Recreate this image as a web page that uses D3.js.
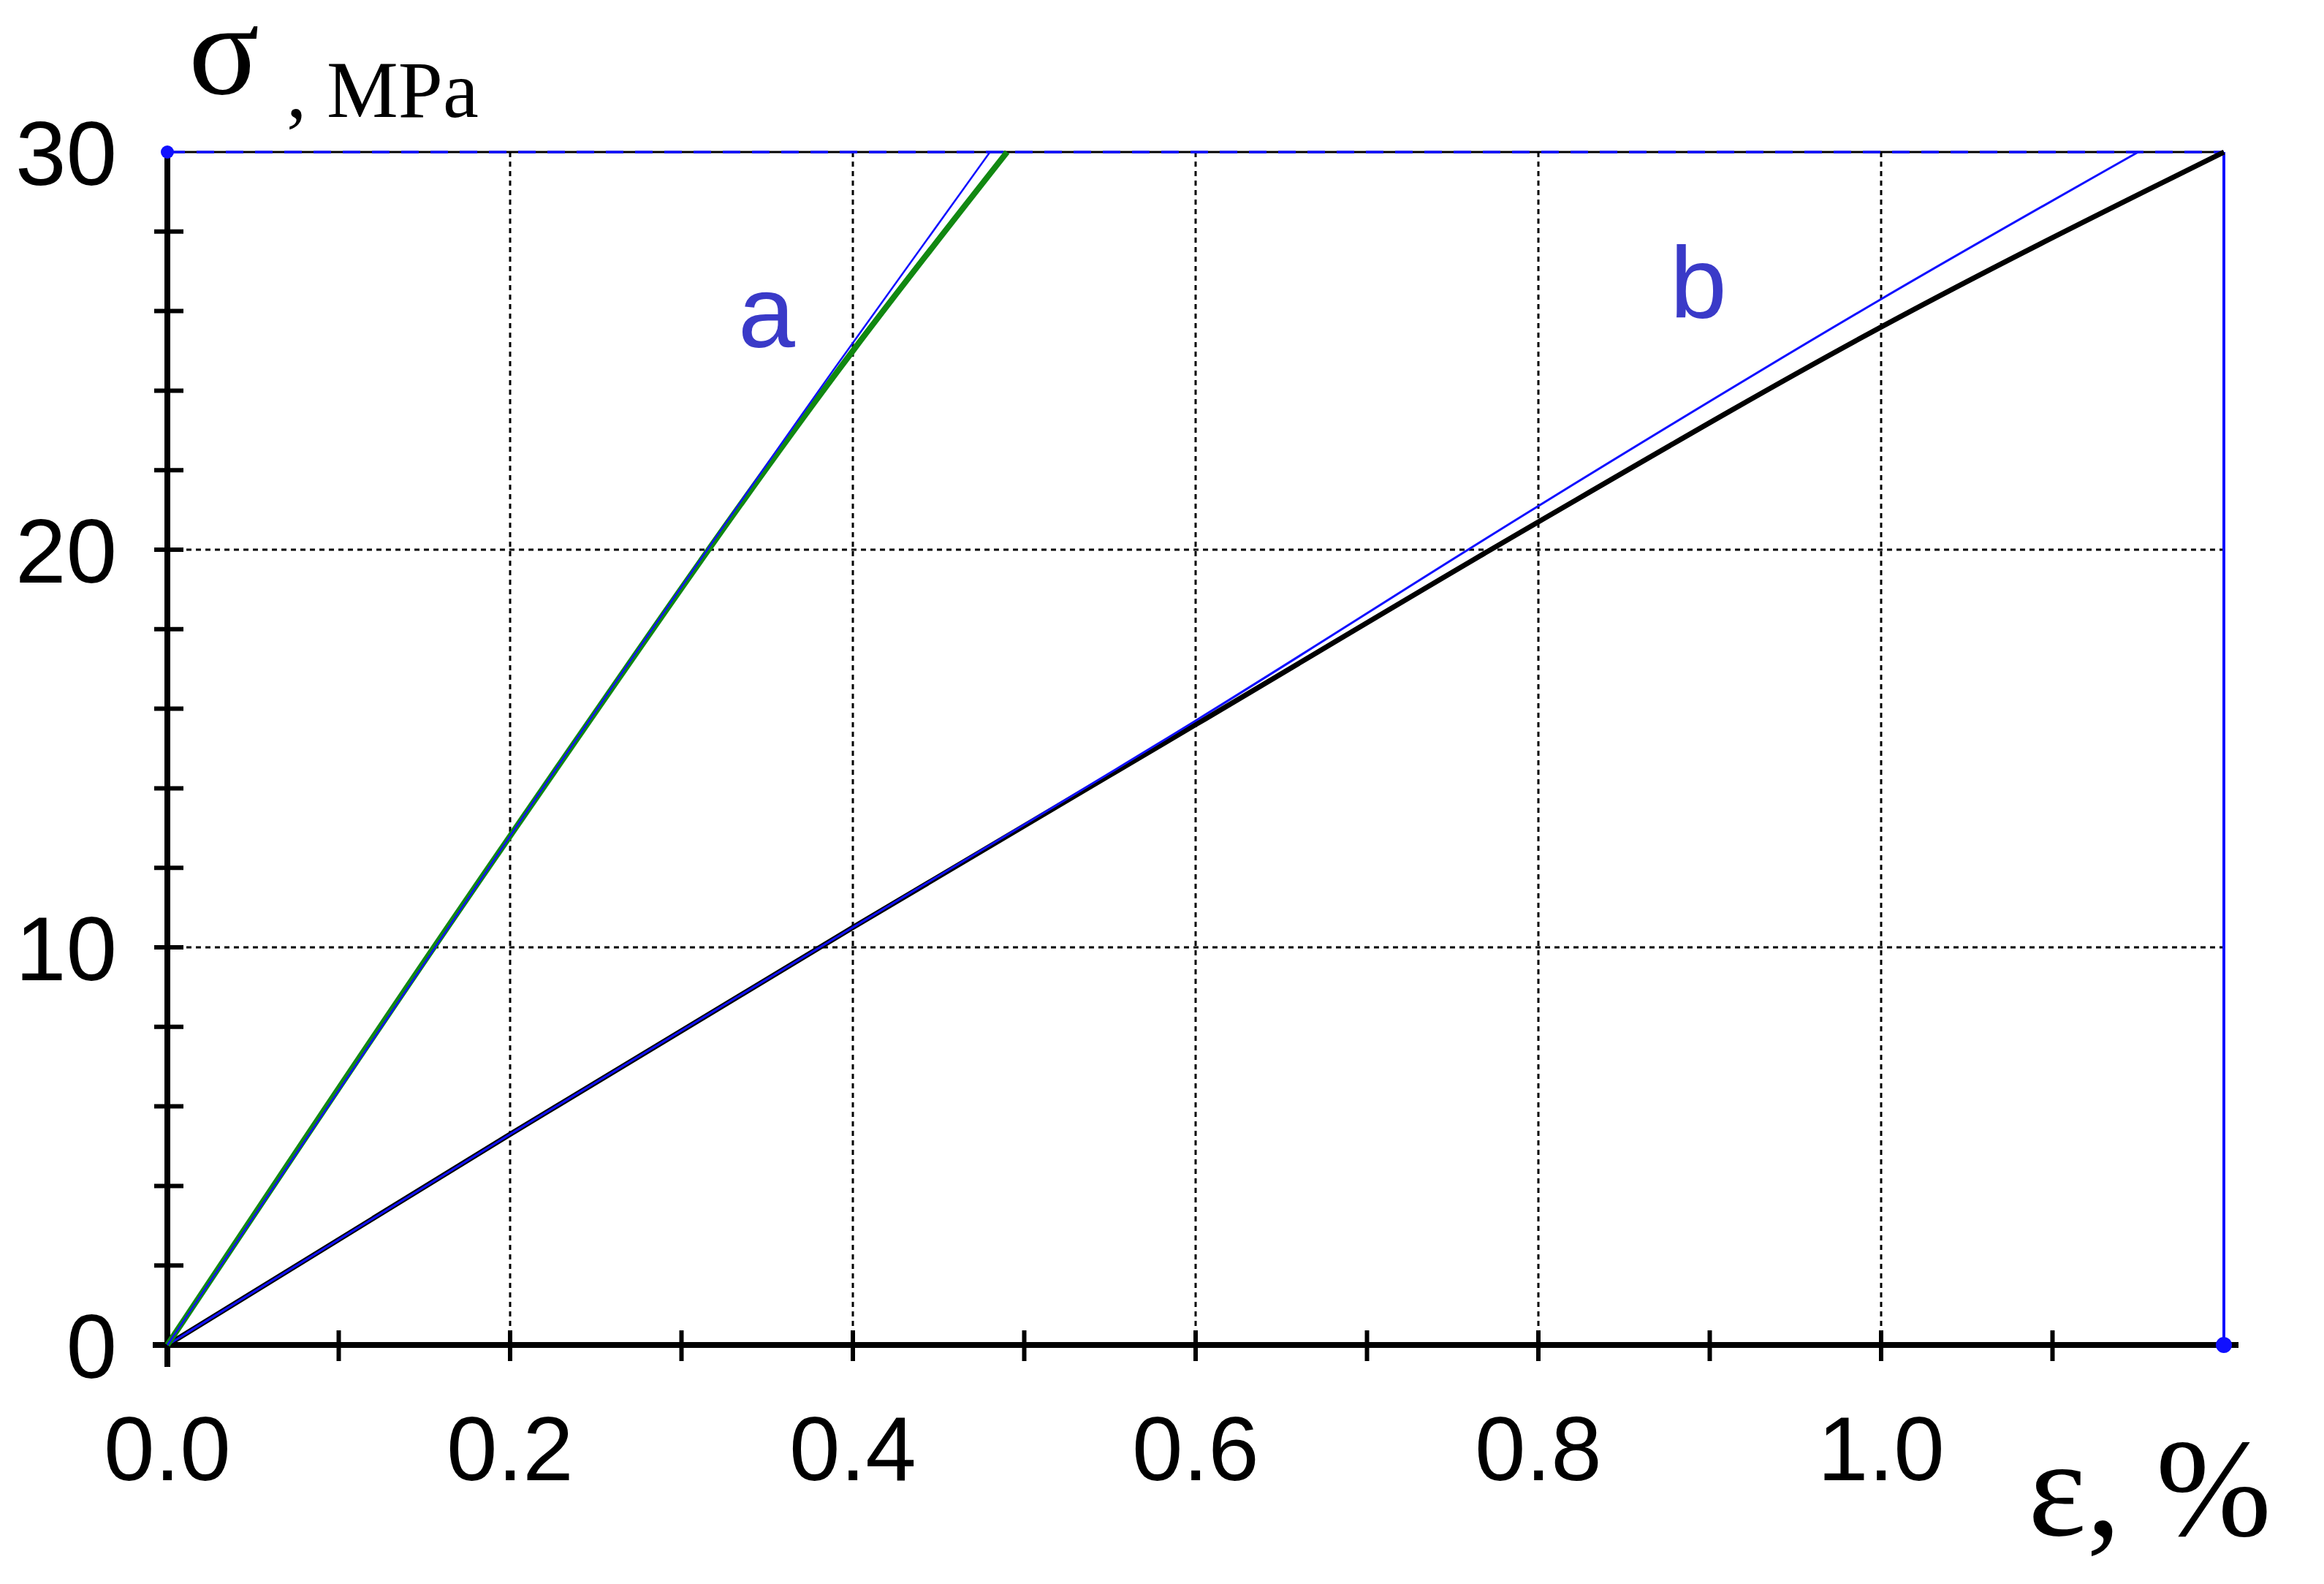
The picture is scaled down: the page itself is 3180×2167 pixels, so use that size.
<!DOCTYPE html>
<html><head><meta charset="utf-8">
<script src="https://cdn.jsdelivr.net/npm/d3@7"></script>
<style>body{margin:0;background:#fff}</style></head>
<body><svg id="c" width="3180" height="2167"></svg>
<script>
const xTicks=[0.0,0.2,0.4,0.6,0.8,1.0];
const yTicks=[0,10,20,30];
const aGreen=[[0,0],[0.2,12.8],[0.4,25.0],[0.49,30]];
const aBlue=[[0,0],[0.2,12.8],[0.39,24.6],[0.48,30]];
const bBlack=[[0,0],[0.2,5.3],[0.4,10.5],[0.6,15.6],[0.8,20.7],[1.0,25.6],[1.2,30]];
const bBlue=[[0,0],[0.2,5.3],[0.4,10.5],[0.6,15.7],[0.8,21.1],[1.0,26.3],[1.15,30]];
const svg=d3.select("#c");
const x=d3.scaleLinear().domain([0,1.2]).range([229,3043]);
const y=d3.scaleLinear().domain([0,30]).range([1840,208]);
svg.append("g").selectAll("line").data([0.2,0.4,0.6,0.8,1.0]).join("line")
 .attr("x1",d=>x(d)).attr("x2",d=>x(d)).attr("y1",y(0)).attr("y2",y(30))
 .attr("stroke","#000").attr("stroke-width",3).attr("stroke-dasharray","7,6");
svg.append("g").selectAll("line").data([10,20]).join("line")
 .attr("x1",x(0)).attr("x2",x(1.2)).attr("y1",d=>y(d)).attr("y2",d=>y(d))
 .attr("stroke","#000").attr("stroke-width",3).attr("stroke-dasharray","7,6");
svg.append("line").attr("x1",x(0)).attr("x2",x(1.2)).attr("y1",y(30)).attr("y2",y(30)).attr("stroke","#000").attr("stroke-width",3);
svg.append("line").attr("x1",x(0)).attr("x2",x(1.2)).attr("y1",y(30)).attr("y2",y(30)).attr("stroke","#1010ff").attr("stroke-width",3.5).attr("stroke-dasharray","24,16");
svg.append("line").attr("x1",x(1.2)).attr("x2",x(1.2)).attr("y1",y(30)).attr("y2",y(0)).attr("stroke","#1010ff").attr("stroke-width",4);
svg.append("line").attr("x1",x(0)-20).attr("x2",x(1.2)+20).attr("y1",y(0)).attr("y2",y(0)).attr("stroke","#000").attr("stroke-width",8);
svg.append("line").attr("x1",x(0)).attr("x2",x(0)).attr("y1",y(0)+30).attr("y2",y(30)).attr("stroke","#000").attr("stroke-width",8);
svg.append("g").selectAll("line").data(d3.range(1,12)).join("line")
 .attr("x1",d=>x(d/10)).attr("x2",d=>x(d/10)).attr("y1",y(0)-20).attr("y2",y(0)+22)
 .attr("stroke","#000").attr("stroke-width",6);
svg.append("g").selectAll("line").data(d3.range(1,15)).join("line")
 .attr("x1",x(0)-18).attr("x2",x(0)+22).attr("y1",d=>y(d*2)).attr("y2",d=>y(d*2))
 .attr("stroke","#000").attr("stroke-width",6);
svg.append("circle").attr("cx",x(0)).attr("cy",y(30)).attr("r",9).attr("fill","#1010ff");
svg.append("circle").attr("cx",x(1.2)).attr("cy",y(0)).attr("r",11).attr("fill","#1010ff");
const ln=d3.line().x(d=>x(d[0])).y(d=>y(d[1])).curve(d3.curveMonotoneX);
svg.append("path").attr("d",ln(bBlack)).attr("fill","none").attr("stroke","#000").attr("stroke-width",7);
svg.append("path").attr("d",ln(bBlue)).attr("fill","none").attr("stroke","#1010ff").attr("stroke-width",3);
svg.append("path").attr("d",ln(aGreen)).attr("fill","none").attr("stroke","#118811").attr("stroke-width",8);
svg.append("path").attr("d",ln(aBlue)).attr("fill","none").attr("stroke","#1010ff").attr("stroke-width",2.5);
svg.append("g").selectAll("text").data(xTicks).join("text")
 .attr("x",d=>x(d)).attr("y",2025).attr("text-anchor","middle")
 .attr("font-family","Liberation Sans, Arial").attr("font-size",125).text(d=>d.toFixed(1));
svg.append("g").selectAll("text").data(yTicks).join("text")
 .attr("x",160).attr("y",d=>y(d)+45).attr("text-anchor","end")
 .attr("font-family","Liberation Sans, Arial").attr("font-size",125).text(d=>d);
svg.append("text").attr("x",258).attr("y",128).attr("font-family","Liberation Serif, Times New Roman").attr("font-size",180).text("σ");
svg.append("text").attr("x",392).attr("y",160).attr("font-family","Liberation Serif, Times New Roman").attr("font-size",110).text(", MPa");
svg.append("text").attr("x",2775).attr("y",2100).attr("font-family","Liberation Serif, Times New Roman").attr("font-size",190).text("ε, %");
svg.append("text").attr("x",1010).attr("y",475).attr("font-family","Liberation Sans, Arial").attr("font-size",140).attr("fill","#3a3ac8").text("a");
svg.append("text").attr("x",2285).attr("y",435).attr("font-family","Liberation Sans, Arial").attr("font-size",140).attr("fill","#3a3ac8").text("b");
</script></body></html>
